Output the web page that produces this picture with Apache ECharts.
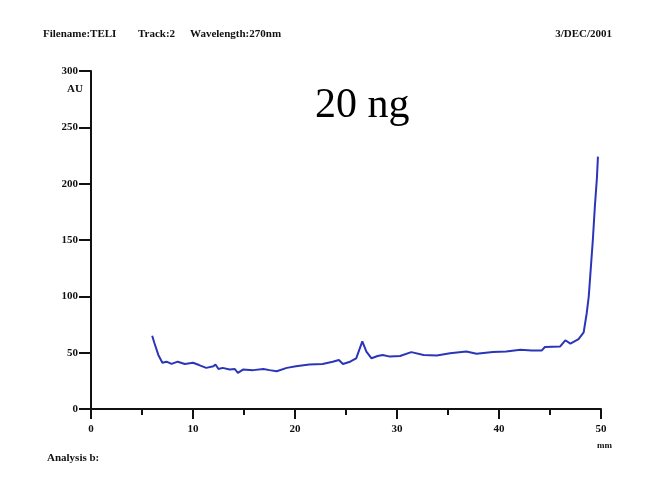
<!DOCTYPE html>
<html>
<head>
<meta charset="utf-8">
<title>TELI track 2</title>
<script src="https://cdn.jsdelivr.net/npm/echarts@6/dist/echarts.min.js"></script>
<style>
  html, body { margin: 0; padding: 0; background: #fff; }
  #chart { width: 652px; height: 481px; }
</style>
</head>
<body>
<div id="chart"></div>
<script>
// distance along the track (mm) and absorbance (AU)
const positionMm = [
  6.0, 6.2, 6.6, 7.0, 7.4, 7.9, 8.5, 9.2, 10.0, 10.6, 11.3, 12.0, 12.2, 12.5, 12.9,
  13.6, 14.1, 14.4, 14.9, 15.9, 16.9, 17.5, 18.2, 19.2, 20.1, 21.4, 22.7, 23.7, 24.3,
  24.7, 25.4, 26.0, 26.6, 27.0, 27.5, 28.1, 28.6, 29.3, 30.3, 31.4, 32.6, 33.9, 35.2,
  36.8, 37.8, 39.4, 40.7, 42.1, 43.2, 44.2, 44.5, 46.0, 46.5, 47.0, 47.8, 48.3, 48.6,
  48.8, 49.0, 49.2, 49.4, 49.6, 49.7
];
const absorbance = [
  65, 59, 48, 41, 42, 40, 42, 40, 41, 39, 36.5, 38, 39.5, 35.5, 36.5,
  35, 35.5, 32, 35, 34.5, 35.5, 34.5, 33.5, 36.5, 38, 39.5, 40, 42, 43.5,
  40, 42, 45, 60, 51, 45, 47, 48, 46.5, 47, 50.5, 48, 47.5, 49.5,
  51, 49, 50.5, 51, 52.5, 52, 52, 55, 55.5, 61, 58, 62, 68, 85,
  100, 125, 150, 180, 205, 224
];
const xTicks = [0, 10, 20, 30, 40, 50];
const yTicks = [0, 50, 100, 150, 200, 250, 300];

const serif = '"Liberation Serif", "DejaVu Serif", serif';
const chart = echarts.init(document.getElementById('chart'));

chart.setOption({
  backgroundColor: '#ffffff',
  animation: false,
  grid: { left: 91, right: 51, top: 71, bottom: 72 },
  xAxis: {
    type: 'value',
    min: xTicks[0],
    max: xTicks[xTicks.length - 1],
    interval: 10,
    axisLine: { lineStyle: { color: '#111', width: 2 } },
    axisTick: { length: 10, lineStyle: { color: '#111', width: 2 } },
    minorTick: { show: true, splitNumber: 2, length: 6, lineStyle: { color: '#111', width: 2 } },
    axisLabel: { color: '#111', fontFamily: serif, fontWeight: 'bold', fontSize: 11, margin: 15 },
    splitLine: { show: false }
  },
  yAxis: {
    type: 'value',
    min: yTicks[0],
    max: yTicks[yTicks.length - 1],
    interval: 50,
    axisLine: { show: true, lineStyle: { color: '#111', width: 2 } },
    axisTick: { show: true, length: 12, lineStyle: { color: '#111', width: 2 } },
    axisLabel: { color: '#111', fontFamily: serif, fontWeight: 'bold', fontSize: 11, margin: 13 },
    splitLine: { show: false }
  },
  series: [
    {
      type: 'line',
      data: positionMm.map((x, i) => [x, absorbance[i]]),
      showSymbol: false,
      lineStyle: { color: '#2b35b8', width: 2 }
    }
  ],
  graphic: [
    { type: 'text', left: 43, top: 29, style: { text: 'Filename:TELI', font: 'bold 11px ' + serif, fill: '#111' } },
    { type: 'text', left: 138, top: 29, style: { text: 'Track:2', font: 'bold 11px ' + serif, fill: '#111' } },
    { type: 'text', left: 190, top: 29, style: { text: 'Wavelength:270nm', font: 'bold 11px ' + serif, fill: '#111' } },
    { type: 'text', right: 40, top: 29, style: { text: '3/DEC/2001', font: 'bold 11px ' + serif, fill: '#111' } },
    { type: 'text', left: 67, top: 84, style: { text: 'AU', font: 'bold 11px ' + serif, fill: '#111' } },
    { type: 'text', left: 597, top: 441, style: { text: 'mm', font: 'bold 9px ' + serif, fill: '#111' } },
    { type: 'text', left: 47, top: 453, style: { text: 'Analysis b:', font: 'bold 11px ' + serif, fill: '#111' } },
    { type: 'text', left: 315, top: 85, style: { text: '20 ng', font: '42px ' + serif, fill: '#000' } }
  ]
});
</script>
</body>
</html>
